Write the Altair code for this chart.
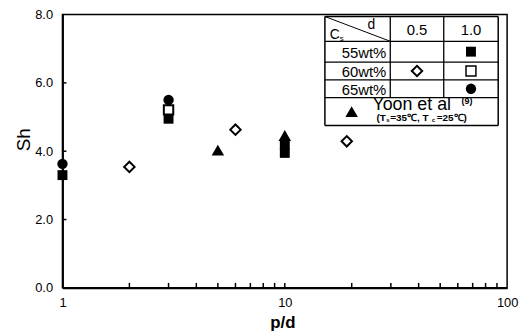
import altair as alt
import pandas as pd

# ---- data ----
sq55_x = [1, 3, 10, 10]
sq55_y = [3.3, 4.95, 3.95, 4.2]
dia60_x = [2, 6, 19]
dia60_y = [3.54, 4.63, 4.29]
osq60_x = [3]
osq60_y = [5.21]
cir65_x = [1, 3]
cir65_y = [3.63, 5.5]
yoon_x = [5, 10]
yoon_y = [4.03, 4.46]

x_label_vals = [1, 10, 100]
x_minor = [2, 3, 4, 5, 6, 7, 8, 9, 10, 20, 30, 40, 50, 60, 70, 80, 90]
y_label_vals = [0, 2, 4, 6, 8]
y_minor = [2, 4, 6]

rows_text = ["55wt%", "60wt%", "65wt%"]
cols_text = ["0.5", "1.0"]

# ---- layout ----
W, H = 449, 276
FONT = "Liberation Sans"

xs = alt.Scale(type="log", domain=[1, 100])
ys = alt.Scale(domain=[0, 8])
x_axis = alt.Axis(values=x_label_vals, format="d", tickSize=0, labelPadding=9, grid=False,
                  title="p/d", titleFontSize=17, titleFontWeight="bold", titleX=222, titleY=35,
                  titleBaseline="middle", titleAlign="center")
y_axis = alt.Axis(values=y_label_vals, format=".1f", tickSize=0, labelPadding=10, grid=False,
                  title="Sh", titleFontSize=19, titleFontWeight="normal", titleX=-39, titleY=126,
                  titleAngle=-90, titleBaseline="middle", titleAlign="center")


def X(f):
    return alt.X(f, scale=xs, axis=x_axis)


def Y(f):
    return alt.Y(f, scale=ys, axis=y_axis)


def pts(xv, yv, **mk):
    df = pd.DataFrame({"pd": xv, "Sh": yv})
    return alt.Chart(df).mark_point(**mk).encode(x=X("pd:Q"), y=Y("Sh:Q"))


xt = alt.Chart(pd.DataFrame({"v": x_minor})).mark_rule(color="black", strokeWidth=1.5).encode(
    x=X("v:Q"), y=alt.value(H), y2=alt.value(H - 5))
yt = alt.Chart(pd.DataFrame({"v": y_minor})).mark_rule(color="black", strokeWidth=1.5).encode(
    y=Y("v:Q"), x=alt.value(0), x2=alt.value(4))

sq55 = pts(sq55_x, sq55_y, shape="square", filled=True, color="black", size=100, opacity=1)
osq60 = pts(osq60_x, osq60_y, shape="square", filled=True, fill="white", stroke="black",
            strokeWidth=2, size=90, opacity=1)
cir65 = pts(cir65_x, cir65_y, shape="circle", filled=True, color="black", size=110, opacity=1)
dia60 = pts(dia60_x, dia60_y, shape="diamond", filled=True, fill="white", stroke="black",
            strokeWidth=2, size=110, opacity=1)
yoon = pts(yoon_x, yoon_y, shape="triangle-up", filled=True, color="black", size=160, opacity=1)

# ---- legend table (layout only) ----
one = alt.Data(values=[{}])
L, R, T, B = 265, 440, 2, 112
C1, C2 = 331, 385
RL = [27, 48, 66, 84]


def seg(x1, y1, x2, y2, w=1.3):
    return alt.Chart(one).mark_rule(color="black", strokeWidth=w).encode(
        x=alt.value(x1), y=alt.value(y1), x2=alt.value(x2), y2=alt.value(y2))


def txt(s, x, y, size=14, align="center", **kw):
    return alt.Chart(one).mark_text(text=s, fontSize=size, font=FONT, align=align,
                                    baseline="middle", color="black", **kw).encode(
        x=alt.value(x), y=alt.value(y))


def sym(x, y, **mk):
    return alt.Chart(one).mark_point(opacity=1, **mk).encode(x=alt.value(x), y=alt.value(y))


table = [seg(L, T, R, T, 1.5), seg(L, B, R, B, 1.5), seg(L, T, L, B, 1.5), seg(R, T, R, B, 1.5)]
table += [seg(L, r, R, r) for r in RL]
table += [seg(C1, T, C1, RL[-1]), seg(C2, T, C2, RL[-1]), seg(L, T, C1, RL[0], 1.0)]
row_c = [(RL[0] + RL[1]) / 2, (RL[1] + RL[2]) / 2, (RL[2] + RL[3]) / 2]
for s, yc in zip(rows_text, row_c):
    table.append(txt(s, C1 - 4, yc + 1, 15, "right"))
table.append(txt(cols_text[0], (C1 + C2) / 2, (T + RL[0]) / 2 + 1, 15))
table.append(txt(cols_text[1], (C2 + R) / 2, (T + RL[0]) / 2 + 1, 15))
table.append(txt("d", 312, 11, 14))
table.append(txt("C", 275, 21, 14))
table.append(txt("s", 282, 25, 8))
table.append(sym((C2 + R) / 2, row_c[0], shape="square", filled=True, color="black", size=100))
table.append(sym((C1 + C2) / 2, row_c[1], shape="diamond", filled=True, fill="white", stroke="black",
                 strokeWidth=2, size=110))
table.append(sym((C2 + R) / 2, row_c[1], shape="square", filled=True, fill="white", stroke="black",
                 strokeWidth=1.5, size=100))
table.append(sym((C2 + R) / 2, row_c[2], shape="circle", filled=True, color="black", size=110))
table.append(sym(292, 98, shape="triangle-up", filled=True, color="black", size=160))
table.append(txt("Yoon et al", 313, 91, 18, "left"))
table.append(txt("(9)", 403, 87, 9, "left", fontWeight="bold"))
table.append(txt("(T", 317, 105, 10, "left", fontWeight="bold"))
table.append(txt("s", 327, 107, 6, "left", fontWeight="bold"))
table.append(txt("=35℃, T", 331, 105, 10, "left", fontWeight="bold"))
table.append(txt("c", 373, 107, 6, "left", fontWeight="bold"))
table.append(txt("=25℃)", 378, 105, 10, "left", fontWeight="bold"))

chart = alt.layer(xt, yt, sq55, osq60, cir65, dia60, yoon, *table).properties(
    width=W, height=H,
    autosize=alt.AutoSizeParams(type="none"),
    padding={"left": 55, "top": 5, "right": 12, "bottom": 46},
    background="white",
).configure_view(stroke="black", strokeWidth=1.5).configure_axis(
    domainColor="black", domainWidth=2, labelColor="black", labelFont=FONT, labelFontSize=13,
    titleColor="black", titleFont=FONT, labelFlush=False,
)

chart.save("out.html", embed_options={"renderer": "svg", "actions": False})
